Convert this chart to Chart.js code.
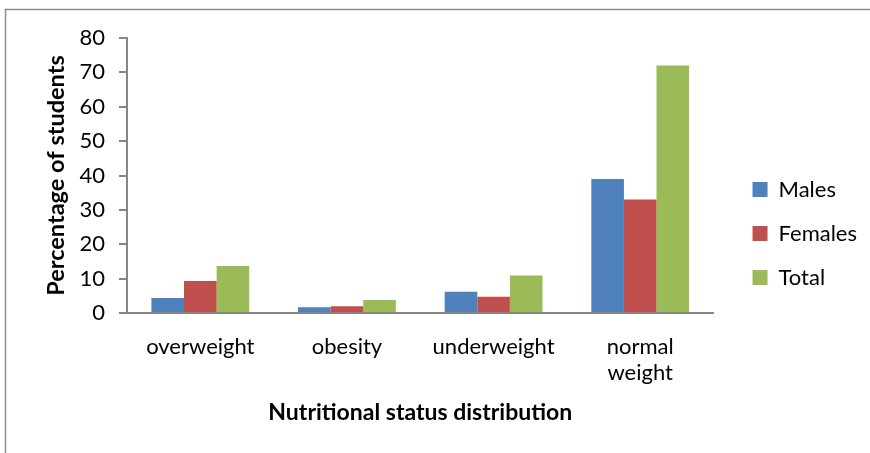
<!DOCTYPE html>
<html>
<head>
<meta charset="utf-8">
<script src="https://cdn.jsdelivr.net/npm/chart.js@4"></script>
<style>
  html, body { margin: 0; padding: 0; background: #ffffff; }
  #wrap { width: 870px; height: 453px; position: relative; }
</style>
</head>
<body>
<div id="wrap"><canvas id="chart" width="870" height="453"></canvas></div>
<script>
// Nutritional status of students, percent by group
const categories = ['overweight', 'obesity', 'underweight', ['normal', 'weight']];
const males   = [4.4, 1.7, 6.2, 39.0];
const females = [9.3, 2.0, 4.7, 33.0];
const totals  = [13.7, 3.8, 10.9, 72.0];
const yTicks  = [0, 10, 20, 30, 40, 50, 60, 70, 80];

const FONT = 'Lato, "Open Sans", sans-serif';
const AXIS = '#868686';

// thin outer frame around the chart area of the page
const framePlugin = {
  id: 'frame',
  beforeDraw(chart) {
    const c = chart.ctx;
    c.save();
    c.strokeStyle = '#8c8c8c';
    c.lineWidth = 1.5;
    c.beginPath();
    c.moveTo(5.5, 453);
    c.lineTo(5.5, 9.5);
    c.lineTo(870, 9.5);
    c.stroke();
    c.restore();
  }
};

new Chart(document.getElementById('chart'), {
  type: 'bar',
  data: {
    labels: categories,
    datasets: [
      { label: 'Males',   data: males,   backgroundColor: '#4F81BD' },
      { label: 'Females', data: females, backgroundColor: '#C0504D' },
      { label: 'Total',   data: totals,  backgroundColor: '#9BBB59' }
    ]
  },
  options: {
    responsive: false,
    animation: false,
    layout: { padding: { left: 42, top: 38, right: 3, bottom: 24 } },
    datasets: {
      bar: { categoryPercentage: 0.667, barPercentage: 1.0, borderWidth: 0 }
    },
    plugins: {
      legend: {
        position: 'right',
        align: 'center',
        labels: {
          boxWidth: 15, boxHeight: 15, padding: 22,
          color: '#000', font: { family: FONT, size: 22 }
        }
      },
      tooltip: { enabled: false }
    },
    scales: {
      x: {
        grid: { display: false, drawTicks: false },
        border: { color: AXIS, width: 2 },
        ticks: { color: '#000', font: { family: FONT, size: 22, lineHeight: 1.22 }, padding: 20, maxRotation: 0, autoSkip: false },
        title: { display: true, text: 'Nutritional status distribution', color: '#000',
                 font: { family: FONT, size: 23, weight: 'bold' }, padding: { top: 0, bottom: 3 } },
        afterFit(s) { s.height = 453 - 24 - 313; }
      },
      y: {
        min: 0, max: 80,
        afterBuildTicks(s) { s.ticks = yTicks.map(v => ({ value: v })); },
        grid: { display: true, drawOnChartArea: false, drawTicks: true, tickLength: 8, color: AXIS, lineWidth: 2 },
        border: { color: AXIS, width: 2 },
        ticks: { color: '#000', font: { family: FONT, size: 22 }, padding: 14 },
        title: { display: true, text: 'Percentage of students', color: '#000',
                 font: { family: FONT, size: 23.5, weight: 'bold' }, padding: 0 },
        afterFit(s) { s.width = 127 - 42; }
      },
      // empty gutter between the plot and the legend
      gutter: {
        type: 'linear', position: 'right', display: true,
        grid: { display: false }, border: { display: false },
        ticks: { display: false },
        afterFit(s) { s.width = 17; }
      }
    }
  },
  plugins: [framePlugin]
});
</script>
</body>
</html>
